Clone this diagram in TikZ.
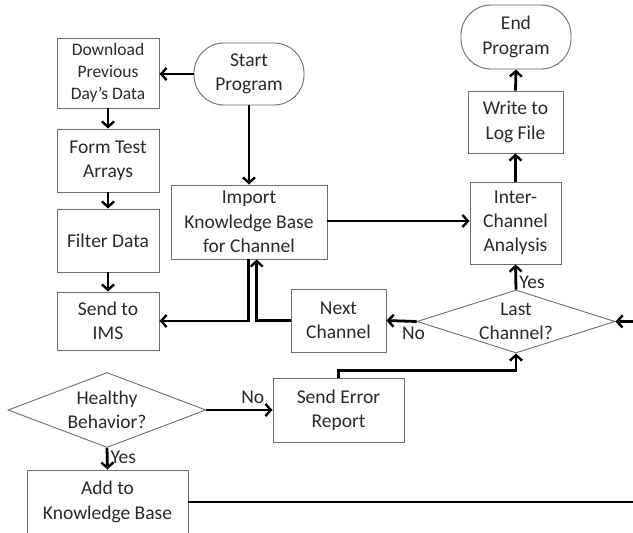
\documentclass[tikz,border=0pt]{standalone}
\usepackage{fontspec}
\setmainfont{Carlito}
\usetikzlibrary{arrows.meta,shapes.geometric}
\definecolor{boxgray}{HTML}{6E6E6E}
\definecolor{txt}{HTML}{2A2A2A}
\begin{document}
\begin{tikzpicture}[x=1pt,y=-1pt,
  base/.style={draw=boxgray, line width=0.9pt, inner sep=0pt, align=center, text=txt,
    font=\fontsize{19.5}{24.3}\selectfont},
  box/.style={base, rectangle},
  stadium/.style={base, rectangle, rounded corners=30pt},
  dia/.style={base, diamond},
  lbl/.style={text=txt, inner sep=0pt, font=\fontsize{19.5}{24}\selectfont},
  arr/.style={line width=2.8pt, black, -{Straight Barb[length=5.5pt,width=12pt,line width=2.4pt]}},
  ln/.style={line width=2.8pt, black}
]
\useasboundingbox (0,0) rectangle (633,533);
\fill[white] (0,0) rectangle (633,533);
\clip (0,0) rectangle (633,533);

% nodes
\node[stadium, minimum width=110pt, minimum height=62pt] (start) at (249,74) {Start\\Program};
\node[box, minimum width=102pt, minimum height=70pt, font=\fontsize{17.5}{21.7}\selectfont] (dl) at (108,73) {Download\\Previous\\Day’s Data};
\node[box, minimum width=102pt, minimum height=63pt] (form) at (108,160.5) {Form Test\\Arrays};
\node[box, minimum width=102pt, minimum height=63pt] (filter) at (108,240.5) {Filter Data};
\node[box, minimum width=102pt, minimum height=58pt] (ims) at (108,321) {Send to\\IMS};
\node[dia, minimum width=198pt, minimum height=75pt] (hb) at (107,410) {};
\node[lbl, align=center] (hbt) at (107,410) {Healthy\\Behavior?};
\node[box, minimum width=161pt, minimum height=64pt] (add) at (107.5,502) {Add to\\Knowledge Base};
\node[box, minimum width=156pt, minimum height=74pt] (imp) at (249,222) {Import\\Knowledge Base\\for Channel};
\node[box, minimum width=95pt, minimum height=63pt] (next) at (338.5,320.5) {Next\\Channel};
\node[box, minimum width=131pt, minimum height=64pt] (err) at (338.5,410) {Send Error\\Report};
\node[dia, minimum width=198pt, minimum height=63pt] (lc) at (516,321.5) {};
\node[lbl, align=center] (lct) at (516,321.5) {Last\\Channel?};
\node[box, minimum width=91pt, minimum height=82pt] (inter) at (515.5,223) {Inter-\\Channel\\Analysis};
\node[box, minimum width=95pt, minimum height=62pt] (log) at (515.5,122) {Write to\\Log File};
\node[stadium, minimum width=110pt, minimum height=64pt] (end) at (516,37) {End\\Program};

\coordinate (e1) at (640,502);
\coordinate (e2) at (640,321.5);

% connectors
\draw[arr] (start.west) -- (dl.east |- start.west);
\draw[arr] (dl.south) -- (form.north);
\draw[arr] (form.south) -- (filter.north);
\draw[arr] (filter.south) -- (ims.north);
\draw[arr] (start.south) -- (imp.north);
\draw[arr] (imp.east |- 0,221) -- (inter.west |- 0,221);
\draw[arr] (inter.north) -- (log.south);
\draw[arr] (log.north) -- (end.south);
\draw[arr] ([xshift=-0.7pt]imp.south) |- (ims.east);
\draw[arr] (next.west) -| ([xshift=7.7pt]imp.south);
\draw[arr] (hb.south) -- (add.north) node[lbl, pos=0.45, right=2pt] {Yes};
\draw[arr] (hb.east) -- (err.west) node[lbl, pos=0.7, above=5pt] {No};
\draw[arr] (err.north) -- ++(0,-7) -| (lc.south);
\draw[arr] (lc.west) -- (next.east) node[lbl, pos=0.1, below=4pt] {No};
\draw[arr] (lc.north) -- (inter.south) node[lbl, pos=0.3, right=2pt] {Yes};
\draw[arr] (add.east) -- (e1) -- (e2) -- (lc.east);
\end{tikzpicture}
\end{document}
